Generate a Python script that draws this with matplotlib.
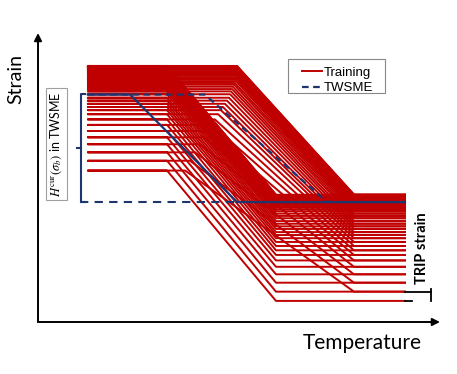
import matplotlib.pyplot as plt
from matplotlib.patches import Rectangle

plt.rcParams['mathtext.fontset'] = 'stix'

# strain levels of each training cycle (arbitrary units, 0-100 axis)
upper = [52.4, 55.8, 58.7, 61.5, 63.9, 66.1, 68.2, 70.1, 71.9, 73.3, 74.4,
         75.5, 76.6, 77.6, 78.8, 79.8, 80.6, 81.4, 82.1, 82.7, 83.3, 83.8,
         84.3, 84.7, 85.2, 85.5, 85.9, 86.2, 86.5, 86.8, 87.0, 87.3, 87.5,
         87.7, 87.9, 88.0, 88.2, 88.3, 88.4, 88.5, 88.6]
lower = [7.3, 10.5, 13.6, 16.5, 19.1, 21.3, 23.2, 24.8, 26.3, 27.7, 29.0,
         30.1, 31.1, 32.2, 33.1, 34.0, 34.9, 35.9, 36.7, 37.5, 38.3, 38.9,
         39.5, 40.1, 40.6, 41.0, 41.4, 41.8, 42.1, 42.5, 42.7, 43.0, 43.2,
         43.4, 43.5, 43.6, 43.7, 43.8, 43.9, 44.0, 44.0, 44.1]
# austenite start temperature of each heating branch
a_start = [36.6, 37.8, 39.1, 40.3, 41.3, 42.3, 43.3, 44.0, 44.8, 45.5, 46.0,
           46.5, 47.0, 47.5, 47.8, 48.0, 48.3, 48.5, 48.8, 49.0, 49.3, 49.5,
           49.5, 49.5, 49.5, 49.5, 49.5, 49.5, 49.5, 49.5, 49.5, 49.5, 49.5,
           49.5, 49.5, 49.5, 49.5, 49.5, 49.5, 49.5, 49.5]

# temperatures (arbitrary units)
t_lo, t_hi = 12.4, 91.3
Ms, Mf, Af = 59.2, 32.1, 78.6

# two-way shape memory effect loop
tw_top, tw_bot = 78.7, 41.5
tw_Ms, tw_Mf, tw_As, tw_Af = 49.5, 22.9, 41.5, 71.9

red = '#C00000'
navy = '#1F3570'

px = 1/100
fig = plt.figure(figsize=(457*px, 374*px), dpi=100)
ax = fig.add_axes([38/457, 52/374, 402/457, 289/374])
ax.set_xlim(0, 100)
ax.set_ylim(0, 100)
ax.axis('off')

for k in range(len(upper)):
    T = [t_hi, Ms, Mf, t_lo, a_start[k], Af, t_hi]
    S = [lower[k], lower[k], upper[k], upper[k], upper[k], lower[k+1], lower[k+1]]
    ax.plot(T, S, '-', color=red, lw=1.4, solid_joinstyle='round',
            label='Training' if k == 0 else None)

# TWSME: cooling (solid) and heating (dashed)
ax.plot([t_hi, tw_Ms, tw_Mf, t_lo], [tw_bot, tw_bot, tw_top, tw_top],
        '-', color=navy, lw=1.6)
ax.plot([t_lo, tw_As, tw_Af, t_hi], [tw_top, tw_top, tw_bot, tw_bot],
        '--', color=navy, lw=1.6, dashes=(3, 2), label='TWSME')
# reference line for the recovered strain
ax.plot([10.5, tw_Ms], [tw_bot, tw_bot], '--', color=navy, lw=1.5, dashes=(4, 3))

# bracket
bx = 10.6
ax.plot([bx + 1.1, bx, bx, bx + 1.1], [tw_top + 0.3, tw_top + 0.3, tw_bot, tw_bot],
        '-', color=navy, lw=1.5)
ax.plot([bx - 0.9, bx], [(tw_top + tw_bot)/2]*2, '-', color=navy, lw=1.5)
ax.text(4.6, (tw_top + tw_bot)/2 + 1.5, r'$H^{\mathrm{cur}}(\sigma_b)$ in TWSME',
        rotation=90, ha='center', va='center', fontsize=9, family='Lato',
        bbox=dict(boxstyle='square,pad=0.25', fc='white', ec='#A0A0A0', lw=0.8))

# TRIP strain marker
ax.plot([91.3, 97.8], [lower[1], lower[1]], '-', color='black', lw=1.3)
ax.plot([91.3, 93.0], [lower[0], lower[0]], '-', color='black', lw=1.3)
ax.plot([97.8, 97.8], [lower[0], lower[1] + 0.8], '-', color='black', lw=1.3)
ax.text(95.6, 25.6, 'TRIP strain', rotation=90, ha='center', va='center',
        fontsize=10.5, fontweight='bold', family='Lato')

# axes arrows
arrow = dict(arrowstyle='-|>', lw=1.4, color='black', mutation_scale=11,
             shrinkA=0, shrinkB=0)
ax.annotate('', xy=(0, 1), xytext=(0, 0), xycoords='axes fraction', arrowprops=arrow)
ax.annotate('', xy=(1, 0), xytext=(0, 0), xycoords='axes fraction', arrowprops=arrow)
ax.text(-0.055, 0.84, 'Strain', rotation=90, transform=ax.transAxes,
        ha='center', va='center', fontsize=14, family='Lato')
ax.text(0.806, -0.073, 'Temperature', transform=ax.transAxes,
        ha='center', va='center', fontsize=15, family='Lato')

# legend
ax.add_patch(Rectangle((0.622, 0.792), 0.241, 0.118, transform=ax.transAxes,
                       fc='white', ec='#888888', lw=0.8, zorder=5))
leg = ax.legend(loc='center', bbox_to_anchor=(0.745, 0.836), frameon=False,
                handlelength=1.5, handletextpad=0.15, borderpad=0.0,
                labelspacing=0.25, prop={'family': 'Liberation Sans', 'size': 9.5})
leg.set_zorder(6)

fig.savefig('out.png', dpi=100)
